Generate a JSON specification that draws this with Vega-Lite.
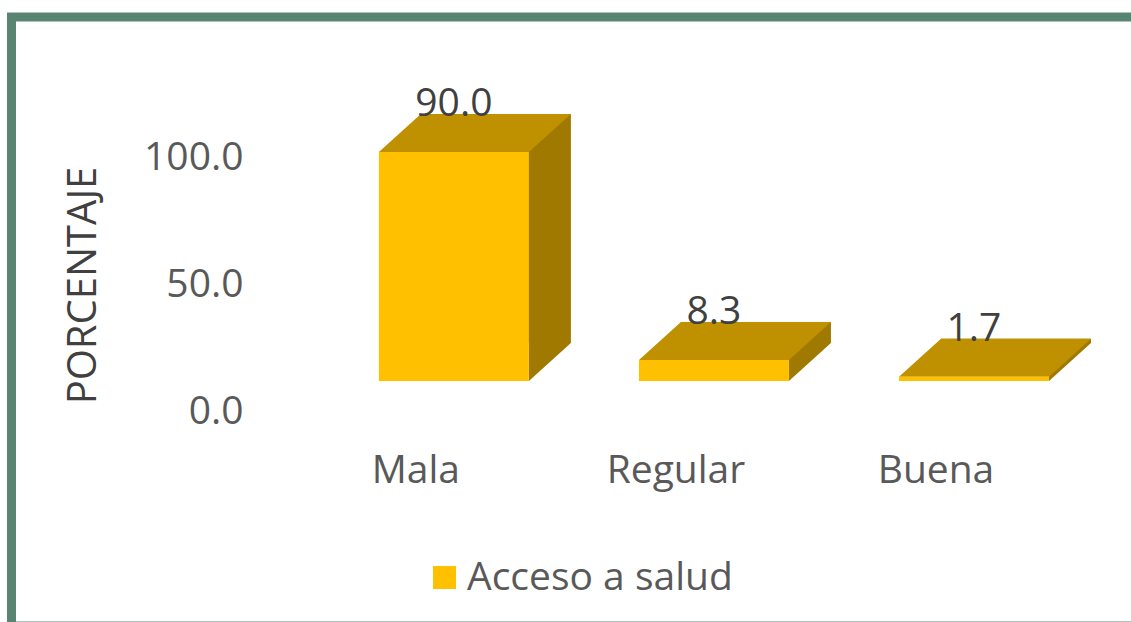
{
  "$schema": "https://vega.github.io/schema/vega-lite/v6.json",
  "width": 1139.5,
  "height": 609,
  "autosize": "none",
  "padding": {"left": 11.5, "top": 17, "right": -20, "bottom": -4},
  "background": "white",
  "view": {"stroke": "#5A8472", "strokeWidth": 9, "fill": "white"},
  "config": {"font": "Open Sans"},
  "data": {"values": [
    {"nivel": "Mala", "porcentaje": 90.0},
    {"nivel": "Regular", "porcentaje": 8.3},
    {"nivel": "Buena", "porcentaje": 1.7}
  ]},
  "encoding": {
    "x": {
      "field": "nivel", "type": "nominal", "sort": null,
      "scale": {"paddingInner": 0.4231, "paddingOuter": 0.9025, "align": 0.7827},
      "axis": {"orient": "bottom", "offset": -144, "domain": false, "ticks": false, "grid": false,
        "labelPadding": 0, "labelBaseline": "alphabetic", "labelFontSize": 39, "labelFont": "Open Sans",
        "labelColor": "#595959", "labelOffset": -38, "labelAngle": 0, "title": null}
    },
    "y": {
      "field": "porcentaje", "type": "quantitative",
      "scale": {"domain": [-96.31, 143.08], "nice": false, "zero": false},
      "axis": {"values": [0, 50, 100], "format": ".1f", "grid": false, "domain": false, "ticks": false,
        "labelPadding": 0, "offset": -231.5, "labelFontSize": 39, "labelFont": "Open Sans",
        "labelColor": "#595959", "labelOffset": 31, "labelFlush": false, "labelOverlap": false,
        "title": "PORCENTAJE", "titleFontSize": 40, "titleFont": "Open Sans", "titleFontWeight": "normal",
        "titleColor": "#404040", "titleX": -148, "titleY": 268, "titleAngle": -90,
        "titleAlign": "center", "titleBaseline": "alphabetic"}
    }
  },
  "layer": [
    {
      "mark": {"type": "bar", "color": "#A07A00", "xOffset": 42, "x2Offset": 42, "yOffset": -38, "y2Offset": -38},
      "encoding": {"y2": {"datum": 0}}
    },
    {
      "mark": {"type": "point", "shape": "M 75 0 L 75 -38 L 117 -38 Z", "size": 4, "filled": true,
        "color": "#A07A00", "opacity": 1, "strokeWidth": 0},
      "encoding": {"y": {"datum": 0}}
    },
    {
      "mark": {"type": "point", "shape": "M -75 0 L 75 0 L 117 -38 L -33 -38 Z", "size": 4, "filled": true,
        "color": "#BF9000", "opacity": 1, "strokeWidth": 0}
    },
    {
      "mark": {"type": "bar"},
      "encoding": {
        "y2": {"datum": 0},
        "color": {"datum": "Acceso a salud", "type": "nominal",
          "scale": {"range": ["#FFC000"]},
          "legend": {"title": null, "orient": "none", "legendX": 413.5, "legendY": 541,
            "symbolType": "square", "symbolSize": 529, "symbolStrokeWidth": 0, "symbolOpacity": 1,
            "labelFontSize": 39, "labelFont": "Open Sans", "labelColor": "#595959", "labelOffset": 3,
            "labelLimit": 0, "padding": 0}}
      }
    },
    {
      "mark": {"type": "text", "dy": -48, "fontSize": 39, "color": "#404040", "baseline": "middle", "align": "center", "font": "Open Sans"},
      "encoding": {"text": {"field": "porcentaje", "type": "quantitative", "format": ".1f"}}
    }
  ]
}
